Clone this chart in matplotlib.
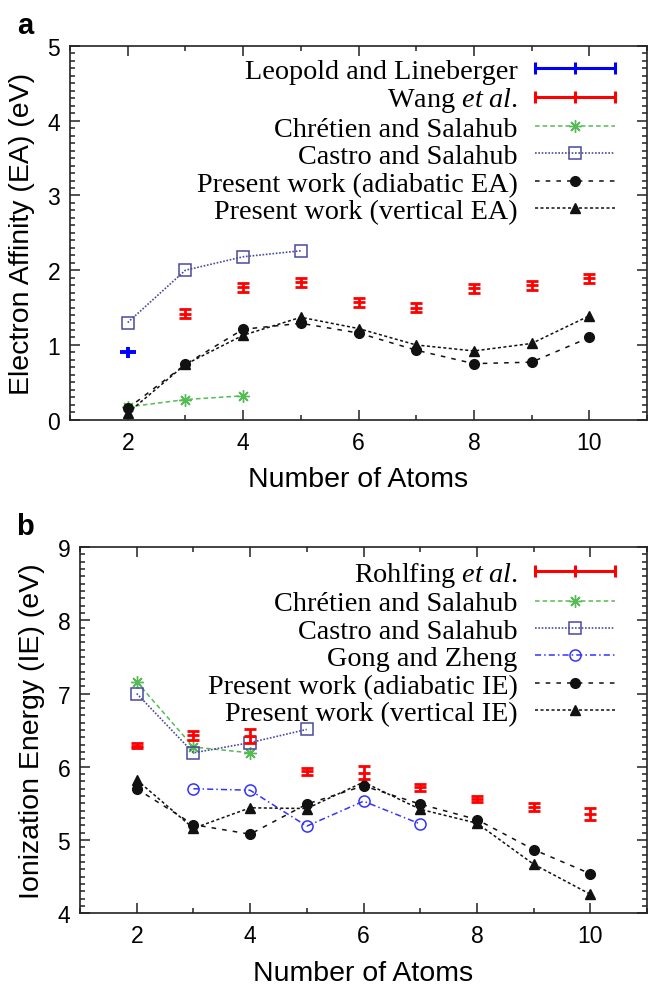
import matplotlib
matplotlib.use("Agg")
import matplotlib.pyplot as plt
from matplotlib.lines import Line2D
from matplotlib.legend_handler import HandlerBase
from matplotlib.container import ErrorbarContainer
from matplotlib.ticker import MultipleLocator

plt.rcParams['font.family'] = ['Liberation Sans', 'DejaVu Sans']
plt.rcParams['mathtext.fontset'] = 'custom'
plt.rcParams['mathtext.rm'] = 'Liberation Serif'
plt.rcParams['mathtext.it'] = 'Liberation Serif:italic'

# ---------------- data: panel a (electron affinity) ----------------
n_atoms = [2, 3, 4, 5, 6, 7, 8, 9, 10]
leopold_x = [2]
leopold_ea = [0.90]
leopold_err = [0.07]
wang_x = [3, 4, 5, 6, 7, 8, 9, 10]
wang_ea = [1.42, 1.77, 1.84, 1.57, 1.50, 1.76, 1.80, 1.89]
wang_err = [0.06, 0.06, 0.06, 0.06, 0.06, 0.06, 0.06, 0.06]
chret_ea_x = [2, 3, 4]
chret_ea = [0.17, 0.27, 0.32]
castro_ea_x = [2, 3, 4, 5]
castro_ea = [1.30, 2.00, 2.18, 2.26]
adia_ea = [0.15, 0.74, 1.21, 1.29, 1.16, 0.93, 0.75, 0.77, 1.10]
vert_ea = [0.09, 0.74, 1.13, 1.37, 1.22, 1.00, 0.92, 1.02, 1.39]

# ---------------- data: panel b (ionization energy) ----------------
rohl_x = [2, 3, 4, 5, 6, 7, 8, 9, 10]
rohl_ie = [6.29, 6.43, 6.42, 5.94, 5.92, 5.72, 5.56, 5.45, 5.36]
rohl_err = [0.04, 0.06, 0.09, 0.05, 0.09, 0.05, 0.04, 0.05, 0.08]
chret_ie_x = [2, 3, 4]
chret_ie = [7.16, 6.27, 6.19]
castro_ie_x = [2, 3, 4, 5]
castro_ie = [7.00, 6.19, 6.33, 6.51]
gong_x = [3, 4, 5, 6, 7]
gong_ie = [5.70, 5.68, 5.19, 5.53, 5.22]
adia_ie = [5.70, 5.21, 5.08, 5.49, 5.74, 5.49, 5.28, 4.87, 4.54]
vert_ie = [5.82, 5.16, 5.44, 5.43, 5.79, 5.42, 5.23, 4.67, 4.26]

RED = '#ff0000'
BLUE = '#0000ff'
GREEN = '#55bb55'
CASTRO = '#4a4a9e'
GONG = '#3333ff'
BLACK = '#111111'
STAR = (8, 2, 0)


class HandlerErrBar(HandlerBase):
    def create_artists(self, legend, orig_handle, xdescent, ydescent,
                       width, height, fontsize, trans):
        color = orig_handle[2][0].get_color()
        if not isinstance(color, str):
            color = color[0]
        x0 = -xdescent
        x1 = x0 + width
        y = height / 2.0 - ydescent
        line = Line2D([x0, x1], [y, y], color=color, lw=2.2, transform=trans)
        ticks = Line2D([x0, (x0 + x1) / 2.0, x1], [y, y, y], color=color,
                       ls='none', marker='|', ms=9, mew=2.2, transform=trans)
        return [line, ticks]


def style_axes(ax, ylim):
    ax.set_xlim(1, 11)
    ax.set_ylim(*ylim)
    ax.xaxis.set_major_locator(MultipleLocator(2))
    ax.xaxis.set_minor_locator(MultipleLocator(1))
    ax.yaxis.set_major_locator(MultipleLocator(1))
    ax.yaxis.set_minor_locator(MultipleLocator(0.1))
    ax.tick_params(which='both', direction='in', top=True, right=True,
                   width=1.1, color='#222222')
    ax.tick_params(which='major', length=7, labelsize=16.5)
    ax.tick_params(axis='y', which='major', pad=7)
    ax.tick_params(axis='x', which='major', pad=8)
    ax.tick_params(which='minor', length=3.5)
    for s in ax.spines.values():
        s.set_linewidth(1.2)
        s.set_color('#222222')


LEG_KW = dict(handler_map={ErrorbarContainer: HandlerErrBar()},
              markerfirst=False, frameon=False, loc='upper right',
              borderpad=0, borderaxespad=0, labelspacing=0.06,
              handlelength=2.85, handletextpad=0.6,
              prop={'family': 'Liberation Serif', 'size': 20.3})

fig = plt.figure(figsize=(6.49, 9.87), dpi=100)
W, H = 649.0, 987.0
axA = fig.add_axes([70 / W, 1 - 420.7 / H, (647 - 70) / W, (420.7 - 47) / H])
axB = fig.add_axes([80 / W, 1 - 914.3 / H, (647 - 80) / W, (914.3 - 548) / H])

# ---------------- panel a ----------------
h_leo = axA.errorbar(leopold_x, leopold_ea, yerr=leopold_err, fmt='_', color=BLUE,
                     ms=11, mew=2.8, elinewidth=2.8, capsize=0, zorder=5)
h_wang = axA.errorbar(wang_x, wang_ea, yerr=wang_err, fmt='_', color=RED,
                      ms=8, mew=2, elinewidth=2, capsize=4, capthick=2, zorder=5)
h_chA, = axA.plot(chret_ea_x, chret_ea, color=GREEN, ls=(0, (3, 2)), lw=1.1,
                  marker=STAR, ms=9, mew=1.0)
h_caA, = axA.plot(castro_ea_x, castro_ea, color=CASTRO, ls=(0, (1, 1)), lw=1.2,
                  marker='s', ms=8, mfc='none', mew=1.1)
h_adA, = axA.plot(n_atoms, adia_ea, color=BLACK, ls=(0, (3, 4)), lw=1.1,
                  marker='o', ms=7)
h_veA, = axA.plot(n_atoms, vert_ea, color=BLACK, ls=(0, (2, 1.6)), lw=1.1,
                  marker='^', ms=7)
style_axes(axA, (0, 5))
axA.set_xlabel('Number of Atoms', fontsize=20.5, labelpad=9)
axA.set_ylabel('Electron Affinity (EA) (eV)', fontsize=20.5, labelpad=9)

axA.legend([h_leo, h_wang, h_chA, h_caA, h_adA, h_veA],
           ['Leopold and Lineberger', 'Wang $\\it{et\\ al.}$',
            'Chrétien and Salahub', 'Castro and Salahub',
            'Present work (adiabatic EA)', 'Present work (vertical EA)'],
           bbox_to_anchor=(615 / W, 1 - 59 / H), bbox_transform=fig.transFigure,
           **LEG_KW)

# ---------------- panel b ----------------
h_rohl = axB.errorbar(rohl_x, rohl_ie, yerr=rohl_err, fmt='_', color=RED,
                      ms=8, mew=2, elinewidth=2, capsize=4, capthick=2, zorder=5)
h_chB, = axB.plot(chret_ie_x, chret_ie, color=GREEN, ls=(0, (3, 2)), lw=1.1,
                  marker=STAR, ms=9, mew=1.0)
h_caB, = axB.plot(castro_ie_x, castro_ie, color=CASTRO, ls=(0, (1, 1)), lw=1.2,
                  marker='s', ms=8, mfc='none', mew=1.1)
h_go, = axB.plot(gong_x, gong_ie, color=GONG, ls=(0, (4, 2, 1, 2)), lw=1.1,
                 marker='o', ms=8, mfc='none', mew=1.1)
h_adB, = axB.plot(n_atoms, adia_ie, color=BLACK, ls=(0, (3, 4)), lw=1.1,
                  marker='o', ms=7)
h_veB, = axB.plot(n_atoms, vert_ie, color=BLACK, ls=(0, (2, 1.6)), lw=1.1,
                  marker='^', ms=7)
style_axes(axB, (4, 9))
axB.set_xlabel('Number of Atoms', fontsize=20.5, labelpad=9)
axB.set_ylabel('Ionization Energy (IE) (eV)', fontsize=20.5, labelpad=9)

axB.legend([h_rohl, h_chB, h_caB, h_go, h_adB, h_veB],
           ['Rohlfing $\\it{et\\ al.}$', 'Chrétien and Salahub',
            'Castro and Salahub', 'Gong and Zheng',
            'Present work (adiabatic IE)', 'Present work (vertical IE)'],
           bbox_to_anchor=(615 / W, 1 - 561 / H), bbox_transform=fig.transFigure,
           **LEG_KW)

fig.text(25 / W, 1 - 26 / H, 'a', fontsize=21, fontweight='bold',
         ha='center', va='center')
fig.text(25 / W, 1 - 527 / H, 'b', fontsize=21, fontweight='bold',
         ha='center', va='center')

fig.savefig('out.png', dpi=100)
